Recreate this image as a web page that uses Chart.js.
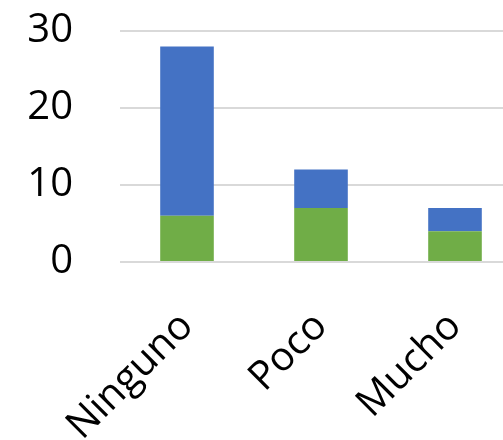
<!DOCTYPE html>
<html>
<head>
<meta charset="utf-8">
<script src="https://cdn.jsdelivr.net/npm/chart.js@4"></script>
<style>
  html, body { margin: 0; padding: 0; background: #fff; overflow: hidden; }
  #wrap { width: 503px; height: 440px; overflow: hidden; }
</style>
</head>
<body>
<div id="wrap"><canvas id="myChart" width="522" height="440"></canvas></div>
<script>
// categorias y valores
var categorias = ["Ninguno", "Poco", "Mucho"];
var valores_verde = [6, 7, 4];
var valores_azul = [22, 5, 3];
var ticks_y = [0, 10, 20, 30];

var ctx1 = document.getElementById("myChart");

const datachart = {
  labels: categorias,
  datasets: [{
    label: 'Verde',
    data: valores_verde,
    backgroundColor: 'rgb(112, 173, 71)',
    categoryPercentage: 0.4,
    barPercentage: 1
  }, {
    label: 'Azul',
    data: valores_azul,
    backgroundColor: 'rgb(68, 114, 196)',
    categoryPercentage: 0.4,
    barPercentage: 1
  }]
}

const config = {
  type: 'bar',
  data: datachart,
  options: {
    responsive: false,
    animation: false,
    layout: { padding: 0 },
    plugins: { legend: { display: false }, tooltip: { enabled: false } },
    scales: {
      x: {
        stacked: true,
        grid: { display: false },
        border: { display: false },
        afterFit: function (axis) { axis.height = 178; },
        ticks: {
          color: '#000',
          font: { family: 'Open Sans', size: 40 },
          minRotation: 45,
          maxRotation: 45,
          padding: 33
        }
      },
      y: {
        stacked: true,
        min: 0,
        max: 30,
        afterBuildTicks: function (axis) {
          axis.ticks = ticks_y.map(function (v) { return { value: v }; });
        },
        afterFit: function (axis) {
          axis.width = 120;
          axis.paddingTop = 31;
        },
        grid: { color: '#d9d9d9', lineWidth: 2, drawTicks: false },
        border: { display: false },
        ticks: {
          color: '#000',
          font: { family: 'Open Sans', size: 40 },
          padding: 47
        }
      }
    }
  }
}
const myChart = new Chart(ctx1, config);
</script>
</body>
</html>
